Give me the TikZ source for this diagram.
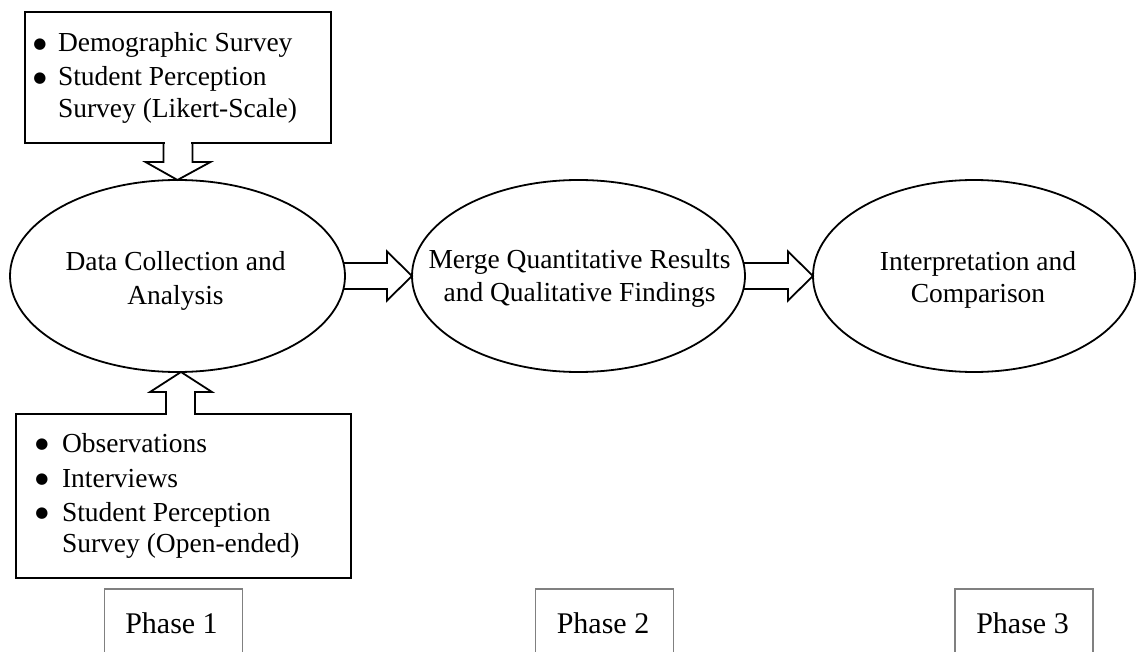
\documentclass[tikz,border=0pt]{standalone}
\usepackage{fontspec}
\setmainfont{Liberation Serif}
\newfontfamily\bulletfont{DejaVu Sans}
\usetikzlibrary{shapes.geometric,calc}
\begin{document}
\begin{tikzpicture}[x=1pt,y=-1pt,
  bx/.style={draw=black,line width=1.8pt,inner sep=0pt,outer sep=0pt,rectangle},
  ell/.style={draw=black,line width=1.8pt,ellipse,inner sep=0pt,outer sep=0pt,minimum height=192pt},
  txt/.style={inner sep=0pt,outer sep=0pt,font=\fontsize{27.5}{33}\selectfont},
  ctr/.style={txt,anchor=base},
  lft/.style={txt,anchor=base west},
  blt/.style={inner sep=0pt,outer sep=0pt,anchor=center,font=\bulletfont\fontsize{15}{16}\selectfont},
  phbox/.style={draw=black!50,line width=1.1pt,rectangle,inner sep=0pt,outer sep=0pt,minimum width=138pt,minimum height=100pt},
  ptxt/.style={inner sep=0pt,outer sep=0pt,anchor=base,font=\fontsize{30}{36}\selectfont},
  blk/.style={draw=black,line width=1.8pt,line join=miter}
]
\useasboundingbox (0,0) rectangle (1137,652);
\clip (0,0) rectangle (1137,652);

% ellipses
\node[ell,minimum width=335pt] (e1) at (177.5,276) {};
\node[ell,minimum width=333pt] (e2) at (578.5,276) {};
\node[ell,minimum width=322pt] (e3) at (974,276) {};

\node[ctr] (e1a) at (175.5,270) {Data Collection and};
\node[ctr] (e1b) at (175.5,304) {Analysis};
\node[ctr] (e2a) at (579.5,268.5) {Merge Quantitative Results};
\node[ctr] (e2b) at (579.5,301) {and Qualitative Findings};
\node[ctr] (e3a) at (978,270) {Interpretation and};
\node[ctr] (e3b) at (978,302) {Comparison};

% top box
\node[bx,minimum width=306pt,minimum height=131pt] (top) at (178,77.5) {};
\node[blt] (tb1) at (40,44.5) {●};
\node[lft] (tt1) at (58,52) {Demographic Survey};
\node[blt] (tb2) at (40,78.5) {●};
\node[lft] (tt2) at (58,86) {Student Perception};
\node[lft] (tt3) at (58,118) {Survey (Likert-Scale)};

% bottom box
\node[bx,minimum width=335pt,minimum height=164pt] (bot) at (183.5,496) {};
\node[blt] (bb1) at (42,445) {●};
\node[lft] (bt1) at (62,452) {Observations};
\node[blt] (bb2) at (42,480) {●};
\node[lft] (bt2) at (62,487) {Interviews};
\node[blt] (bb3) at (42,514) {●};
\node[lft] (bt3) at (62,521) {Student Perception};
\node[lft] (bt4) at (62,552) {Survey (Open-ended)};

% top block arrow
\fill[white] ($(top.south)+(-13.4,-1.5)$) rectangle ($(top.south)+(13.4,1.5)$);
\draw[blk] ($(top.south)+(-14.5,0)$) -- ++(0,19) -- ($(top.south)+(-32.5,19)$)
  -- (e1.north) -- ($(top.south)+(32.5,19)$) -- ($(top.south)+(14.5,19)$) -- ($(top.south)+(14.5,0)$);

% bottom block arrow
\fill[white] ($(bot.north)+(-16.4,-1.5)$) rectangle ($(bot.north)+(10.4,1.5)$);
\draw[blk] ($(bot.north)+(-17.5,0)$) -- ++(0,-22) -- ($(bot.north)+(-33.5,-22)$)
  -- ($(e1.south)+(3.5,0)$) -- ($(bot.north)+(28.5,-22)$) -- ($(bot.north)+(11.5,-22)$) -- ($(bot.north)+(11.5,0)$);

% horizontal block arrows
\draw[blk] ($(e1.east)+(-2,-13)$) -- ($(e1.east)+(42,-13)$) -- ($(e1.east)+(42,-24.5)$)
  -- (e2.west) -- ($(e1.east)+(42,24.5)$) -- ($(e1.east)+(42,13)$) -- ($(e1.east)+(-2,13)$);
\draw[blk] ($(e2.east)+(-2,-13)$) -- ($(e2.east)+(43,-13)$) -- ($(e2.east)+(43,-24.5)$)
  -- (e3.west) -- ($(e2.east)+(43,24.5)$) -- ($(e2.east)+(43,13)$) -- ($(e2.east)+(-2,13)$);

% phase boxes
\node[phbox] (p1) at (173.5,639) {};
\node[phbox] (p2) at (604.5,639) {};
\node[phbox] (p3) at (1024,639) {};
\node[ptxt] (p1t) at ($(p1.north)+(-2,44)$) {Phase 1};
\node[ptxt] (p2t) at ($(p2.north)+(-1.5,44)$) {Phase 2};
\node[ptxt] (p3t) at ($(p3.north)+(-1.5,44)$) {Phase 3};
\end{tikzpicture}
\end{document}
